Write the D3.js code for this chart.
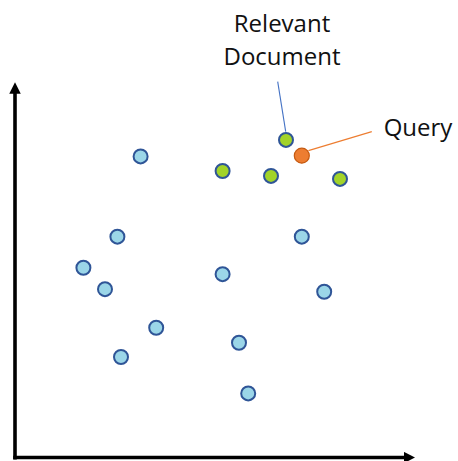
<!DOCTYPE html>
<html>
<head>
<meta charset="utf-8">
<script src="https://cdn.jsdelivr.net/npm/d3@7"></script>
<style>
  body { margin: 0; background: #fff; }
  text { font-family: "Open Sans", sans-serif; fill: #111; }
</style>
</head>
<body>
<div id="container"></div>
<script>
const width = 458;
const height = 461;

// other documents (x, y in embedding space units)
let docX = [31.4, 25.6, 17.1, 22.5, 35.3, 26.5, 51.9, 56.0, 58.3, 71.7, 77.3];
let docY = [80.3, 58.9, 50.6, 44.9, 34.6, 26.8, 48.9, 30.6, 17.1, 58.9, 44.2];

// relevant documents (the first one gets the label)
let relX = [67.75, 51.9, 64.0, 81.25];
let relY = [84.7, 76.4, 75.1, 74.3];

// the query
let queryX = [71.7];
let queryY = [80.5];

let relLabel = ['Relevant', 'Document'];
let queryLabel = 'Query';

let x = d3.scaleLinear().domain([0, 100]).range([15, 415]);
let y = d3.scaleLinear().domain([0, 100]).range([457.5, 82.5]);

let svg = d3.select('#container')
  .append('svg')
  .attr('width', width)
  .attr('height', height);

let defs = svg.append('defs');
defs.append('marker')
  .attr('id', 'arrow')
  .attr('viewBox', '0 0 10 10')
  .attr('refX', 2)
  .attr('refY', 5)
  .attr('markerWidth', 3.2)
  .attr('markerHeight', 3.2)
  .attr('markerUnits', 'strokeWidth')
  .attr('orient', 'auto')
  .append('path')
  .attr('d', 'M0,0 L10,5 L0,10 z')
  .attr('fill', '#000');

// axes, drawn as two arrows from the origin
let axes = svg.append('g').attr('class', 'axes');
axes.append('path')
  .attr('d', 'M' + x(0) + ',' + (y(0) + 2) + ' L' + x(0) + ',' + (y(100) + 9))
  .attr('stroke', '#000')
  .attr('stroke-width', 3.6)
  .attr('fill', 'none')
  .attr('marker-end', 'url(#arrow)');
axes.append('path')
  .attr('d', 'M' + (x(0) - 1.8) + ',' + y(0) + ' L' + (x(100) - 9) + ',' + y(0))
  .attr('stroke', '#000')
  .attr('stroke-width', 3.6)
  .attr('fill', 'none')
  .attr('marker-end', 'url(#arrow)');

// leader lines
svg.append('line')
  .attr('x1', x(relX[0]) - 8.3)
  .attr('y1', y(relY[0]) - 58.3)
  .attr('x2', x(relX[0]) - 0.3)
  .attr('y2', y(relY[0]) - 8.3)
  .attr('stroke', '#4472c4')
  .attr('stroke-width', 1.1);

svg.append('line')
  .attr('x1', x(queryX[0]) + 6.6)
  .attr('y1', y(queryY[0]) - 5)
  .attr('x2', x(queryX[0]) + 70)
  .attr('y2', y(queryY[0]) - 24)
  .attr('stroke', '#ed7d31')
  .attr('stroke-width', 1.1);

let docs = d3.range(docX.length).map(i => ({x: docX[i], y: docY[i]}));
let rels = d3.range(relX.length).map(i => ({x: relX[i], y: relY[i]}));

svg.selectAll('.doc').data(docs).enter()
  .append('circle')
  .attr('class', 'doc')
  .attr('cx', d => x(d.x))
  .attr('cy', d => y(d.y))
  .attr('r', 7)
  .attr('fill', '#9bd6e8')
  .attr('stroke', '#2f5597')
  .attr('stroke-width', 2);

svg.selectAll('.rel').data(rels).enter()
  .append('circle')
  .attr('class', 'rel')
  .attr('cx', d => x(d.x))
  .attr('cy', d => y(d.y))
  .attr('r', 7)
  .attr('fill', '#a2d329')
  .attr('stroke', '#2f5597')
  .attr('stroke-width', 2);

svg.append('circle')
  .attr('cx', x(queryX[0]))
  .attr('cy', y(queryY[0]))
  .attr('r', 7.5)
  .attr('fill', '#ed7d31')
  .attr('stroke', '#c55a11')
  .attr('stroke-width', 1.2);

// labels
svg.selectAll('.rlab').data(relLabel).enter()
  .append('text')
  .attr('class', 'rlab')
  .attr('x', 282)
  .attr('y', (d, i) => 32 + i * 33)
  .attr('text-anchor', 'middle')
  .attr('font-size', 24)
  .text(d => d);

svg.append('text')
  .attr('x', 418)
  .attr('y', 136)
  .attr('text-anchor', 'middle')
  .attr('font-size', 24)
  .text(queryLabel);
</script>
</body>
</html>
